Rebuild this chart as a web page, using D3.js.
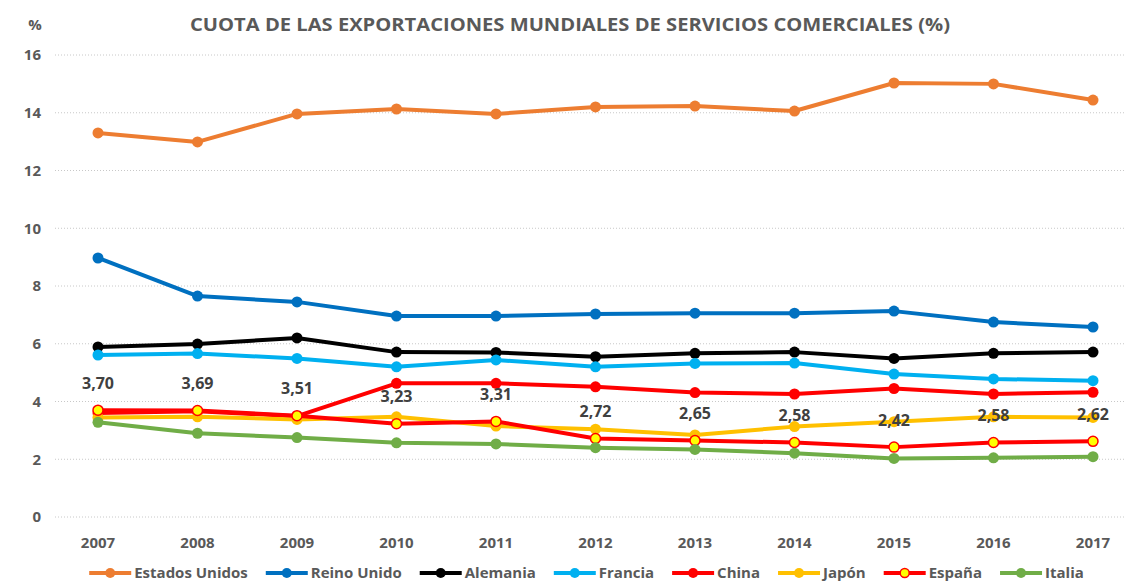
<!DOCTYPE html>
<html>
<head>
<meta charset="utf-8">
<script src="https://cdn.jsdelivr.net/npm/d3@7"></script>
<style>
  body { margin: 0; background: #fff; }
  text { font-family: "Open Sans", "Noto Sans", sans-serif; fill: #595959; font-weight: bold; }
</style>
</head>
<body>
<div id="chart"></div>
<script>
const years = [2007, 2008, 2009, 2010, 2011, 2012, 2013, 2014, 2015, 2016, 2017];
const yTicks = [0, 2, 4, 6, 8, 10, 12, 14, 16];

const estadosUnidos = [13.30, 12.99, 13.96, 14.13, 13.96, 14.20, 14.23, 14.06, 15.03, 15.00, 14.44];
const reinoUnido = [8.97, 7.65, 7.45, 6.96, 6.96, 7.03, 7.06, 7.06, 7.13, 6.75, 6.58];
const alemania = [5.89, 5.99, 6.20, 5.71, 5.70, 5.55, 5.67, 5.71, 5.49, 5.67, 5.71];
const francia = [5.61, 5.66, 5.49, 5.20, 5.44, 5.20, 5.32, 5.33, 4.95, 4.78, 4.72];
const china = [3.60, 3.66, 3.49, 4.63, 4.63, 4.51, 4.31, 4.26, 4.45, 4.26, 4.32];
const japon = [3.45, 3.47, 3.38, 3.47, 3.15, 3.04, 2.84, 3.13, 3.30, 3.47, 3.45];
const espana = [3.70, 3.69, 3.51, 3.23, 3.31, 2.72, 2.65, 2.58, 2.42, 2.58, 2.62];
const italia = [3.28, 2.90, 2.75, 2.57, 2.53, 2.40, 2.34, 2.21, 2.03, 2.05, 2.09];

const series = [
  { name: 'Estados Unidos', values: estadosUnidos, color: '#ED7D31' },
  { name: 'Reino Unido', values: reinoUnido, color: '#0070C0' },
  { name: 'Alemania', values: alemania, color: '#000000' },
  { name: 'Francia', values: francia, color: '#00B0F0' },
  { name: 'China', values: china, color: '#FF0000' },
  { name: 'Japón', values: japon, color: '#FFC000' },
  { name: 'España', values: espana, color: '#FF0000', fill: '#FFFF00', labels: true },
  { name: 'Italia', values: italia, color: '#70AD47' }
];

const W = 1135, H = 584;
const margin = { top: 55, right: 42, bottom: 67, left: 98 };

const svg = d3.select('#chart').append('svg')
  .attr('width', W)
  .attr('height', H);

const x = d3.scalePoint().domain(years).range([margin.left, W - margin.right]);
const y = d3.scaleLinear().domain([0, 16]).range([H - margin.bottom, margin.top]);

// gridlines
svg.append('g')
  .selectAll('line')
  .data(yTicks)
  .join('line')
  .attr('x1', 55).attr('x2', 1125)
  .attr('y1', d => y(d)).attr('y2', d => y(d))
  .attr('stroke', '#c8c8c8')
  .attr('stroke-width', 1)
  .attr('stroke-dasharray', '1,2');

// y tick labels
svg.append('g')
  .selectAll('text')
  .data(yTicks)
  .join('text')
  .attr('x', 41)
  .attr('y', d => y(d))
  .attr('dy', '0.35em')
  .attr('text-anchor', 'end')
  .style('font-size', '15px')
  .text(d => d);

// x tick labels
svg.append('g')
  .selectAll('text')
  .data(years)
  .join('text')
  .attr('x', d => x(d))
  .attr('y', 543)
  .attr('dy', '0.35em')
  .attr('text-anchor', 'middle')
  .style('font-size', '15px')
  .text(d => d);

svg.append('text')
  .attr('x', 35).attr('y', 25).attr('dy', '0.35em')
  .attr('text-anchor', 'middle')
  .style('font-size', '15px')
  .text('%');

svg.append('text')
  .attr('x', 570).attr('y', 25).attr('dy', '0.35em')
  .attr('text-anchor', 'middle')
  .style('font-size', '17px')
  .attr('textLength', 760)
  .attr('lengthAdjust', 'spacingAndGlyphs')
  .text('CUOTA DE LAS EXPORTACIONES MUNDIALES DE SERVICIOS COMERCIALES (%)');

const line = d3.line()
  .x((d, i) => x(years[i]))
  .y(d => y(d));

series.forEach(s => {
  const g = svg.append('g');
  g.append('path')
    .datum(s.values)
    .attr('fill', 'none')
    .attr('stroke', s.color)
    .attr('stroke-width', 4)
    .attr('stroke-linejoin', 'round')
    .attr('d', line);
  g.selectAll('circle')
    .data(s.values)
    .join('circle')
    .attr('cx', (d, i) => x(years[i]))
    .attr('cy', d => y(d))
    .attr('r', s.fill ? 5 : 5.5)
    .attr('fill', s.fill || s.color)
    .attr('stroke', s.color)
    .attr('stroke-width', s.fill ? 1.5 : 0);
  if (s.labels) {
    g.selectAll('text.lbl')
      .data(s.values)
      .join('text')
      .attr('class', 'lbl')
      .attr('x', (d, i) => x(years[i]))
      .attr('y', d => y(d) - 27)
      .attr('dy', '0.35em')
      .attr('text-anchor', 'middle')
      .style('font-size', '16px')
      .style('fill', '#404040')
      .text(d => d.toFixed(2).replace('.', ','));
  }
});

// legend
const legend = svg.append('g');
const gap = 18;
let lx = 0;
series.forEach(s => {
  const it = legend.append('g');
  it.append('line')
    .attr('x1', 0).attr('x2', 42)
    .attr('y1', 0).attr('y2', 0)
    .attr('stroke', s.color).attr('stroke-width', 4);
  it.append('circle')
    .attr('cx', 21).attr('cy', 0)
    .attr('r', s.fill ? 4.5 : 5)
    .attr('fill', s.fill || s.color)
    .attr('stroke', s.color)
    .attr('stroke-width', s.fill ? 1.5 : 0);
  const t = it.append('text')
    .attr('x', 45).attr('y', 0).attr('dy', '0.35em')
    .style('font-size', '15px')
    .text(s.name);
  const w = 45 + t.node().getComputedTextLength();
  it.attr('transform', `translate(${lx}, 0)`);
  lx += w + gap;
});
const totalW = lx - gap;
legend.attr('transform', `translate(${(W - totalW) / 2 + 19}, 573)`);
</script>
</body>
</html>
